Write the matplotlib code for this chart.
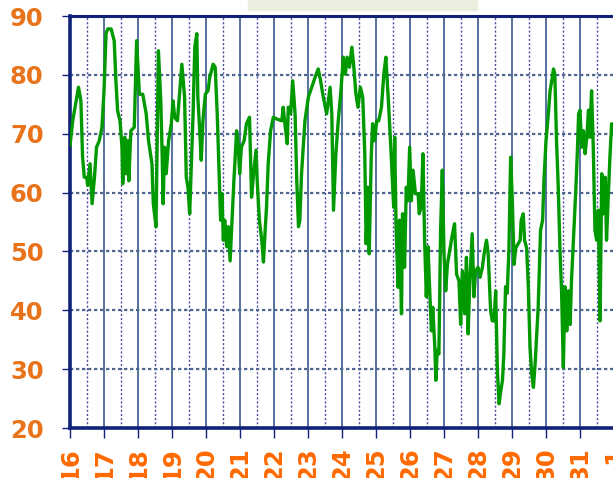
import matplotlib
matplotlib.use('Agg')
import matplotlib.pyplot as plt
from matplotlib.patches import Rectangle

# Values (day of month, reading)
days = [16.00, 16.08, 16.18, 16.25, 16.32, 16.37, 16.42, 16.49, 16.52, 16.59,
        16.65, 16.72, 16.78, 16.86, 16.94, 17.00, 17.06, 17.11, 17.21, 17.30,
        17.35, 17.40, 17.47, 17.53, 17.55, 17.61, 17.65, 17.70, 17.73, 17.79,
        17.89, 17.96, 18.04, 18.14, 18.24, 18.31, 18.41, 18.45, 18.53, 18.60,
        18.67, 18.71, 18.74, 18.78, 18.83, 18.90, 18.98, 19.03, 19.08, 19.16,
        19.23, 19.29, 19.37, 19.42, 19.47, 19.52, 19.57, 19.62, 19.67, 19.73,
        19.76, 19.81, 19.86, 19.91, 19.98, 20.06, 20.11, 20.21, 20.27, 20.33,
        20.38, 20.43, 20.47, 20.51, 20.55, 20.61, 20.65, 20.71, 20.76, 20.82,
        20.90, 20.94, 20.99, 21.04, 21.12, 21.19, 21.28, 21.34, 21.39, 21.47,
        21.51, 21.57, 21.64, 21.69, 21.74, 21.78, 21.83, 21.90, 21.98, 22.08,
        22.23, 22.27, 22.32, 22.39, 22.42, 22.49, 22.55, 22.62, 22.67, 22.72,
        22.76, 22.81, 22.91, 23.01, 23.11, 23.21, 23.30, 23.37, 23.45, 23.55,
        23.65, 23.70, 23.75, 23.82, 23.89, 23.96, 24.04, 24.05, 24.10, 24.15,
        24.22, 24.29, 24.34, 24.41, 24.47, 24.54, 24.61, 24.67, 24.71, 24.76,
        24.80, 24.86, 24.90, 24.96, 25.02, 25.08, 25.16, 25.23, 25.29, 25.37,
        25.45, 25.52, 25.55, 25.59, 25.65, 25.69, 25.75, 25.78, 25.84, 25.89,
        25.94, 25.99, 26.04, 26.09, 26.16, 26.24, 26.27, 26.33, 26.38, 26.43,
        26.48, 26.53, 26.58, 26.63, 26.67, 26.73, 26.76, 26.80, 26.85, 26.90,
        26.95, 27.00, 27.05, 27.10, 27.18, 27.25, 27.31, 27.37, 27.44, 27.49,
        27.54, 27.61, 27.66, 27.71, 27.76, 27.83, 27.88, 27.93, 28.00, 28.06,
        28.13, 28.18, 28.25, 28.30, 28.37, 28.42, 28.47, 28.52, 28.57, 28.62,
        28.67, 28.72, 28.76, 28.81, 28.86, 28.91, 28.96, 29.01, 29.06, 29.11,
        29.18, 29.24, 29.27, 29.33, 29.37, 29.43, 29.48, 29.53, 29.58, 29.63,
        29.68, 29.77, 29.84, 29.90, 29.94, 30.00, 30.07, 30.12, 30.17, 30.22,
        30.26, 30.31, 30.36, 30.41, 30.46, 30.51, 30.56, 30.61, 30.66, 30.71,
        30.75, 30.82, 30.88, 30.92, 30.96, 31.00, 31.05, 31.10, 31.15, 31.20,
        31.25, 31.29, 31.34, 31.39, 31.44, 31.49, 31.54, 31.59, 31.64, 31.69,
        31.74, 31.78, 31.83, 31.88, 31.93, 31.97, 32.05]
values = [68.0, 72.2, 75.6, 77.9, 75.6, 66.0, 62.6, 62.6, 61.2, 64.9,
          58.1, 62.6, 67.7, 68.8, 71.1, 77.3, 87.0, 87.8, 87.8, 85.8,
          79.0, 73.9, 72.2, 67.7, 61.5, 69.4, 63.2, 68.8, 62.0, 70.5,
          71.1, 85.8, 76.7, 76.7, 73.4, 68.8, 64.9, 58.1, 54.2, 84.1,
          75.6, 66.6, 58.1, 67.7, 63.2, 68.8, 71.7, 75.6, 72.8, 72.2,
          77.3, 81.8, 76.2, 62.6, 60.9, 56.4, 64.9, 73.4, 84.7, 87.0,
          76.2, 71.1, 65.5, 72.2, 76.7, 77.3, 79.6, 81.8, 81.3, 73.4,
          64.4, 55.3, 59.8, 51.9, 55.3, 50.8, 54.2, 48.4, 54.7, 62.0,
          70.5, 68.8, 63.2, 67.7, 68.8, 71.7, 72.8, 59.2, 62.6, 67.2,
          61.5, 55.3, 51.9, 48.2, 53.6, 57.5, 64.9, 70.5, 72.8, 72.5,
          72.2, 74.5, 71.7, 68.3, 74.5, 73.4, 79.0, 73.4, 62.0, 54.2,
          55.3, 63.2, 72.2, 76.2, 77.9, 79.6, 81.0, 79.0, 76.2, 73.4,
          77.9, 73.4, 57.0, 66.6, 72.2, 76.7, 83.0, 81.3, 80.1, 83.0,
          81.3, 84.7, 81.8, 76.7, 74.5, 77.9, 76.2, 66.6, 51.3, 60.9,
          49.6, 66.0, 71.7, 68.8, 72.2, 72.2, 74.5, 80.1, 83.0, 75.0,
          66.0, 57.5, 69.4, 54.2, 43.9, 55.3, 39.4, 56.4, 47.3, 60.9,
          58.6, 67.7, 58.6, 63.8, 59.8, 59.8, 56.4, 57.5, 66.6, 51.9,
          42.3, 50.8, 43.3, 36.5, 40.5, 33.7, 28.1, 33.2, 32.6, 53.6,
          63.8, 49.6, 43.3, 47.8, 50.6, 53.0, 54.7, 46.1, 45.0, 37.6,
          46.7, 39.4, 49.0, 36.0, 45.0, 53.0, 42.3, 46.7, 47.3, 45.6,
          47.3, 49.6, 51.9, 49.6, 40.0, 38.2, 38.2, 43.3, 29.8, 24.1,
          26.3, 28.1, 32.6, 44.0, 42.9, 50.6, 66.0, 58.6, 47.8, 50.6,
          51.3, 51.9, 55.3, 56.4, 51.9, 50.6, 44.0, 33.7, 29.2, 26.9,
          30.9, 40.5, 53.6, 55.3, 62.0, 68.8, 73.4, 77.3, 79.0, 81.0,
          80.1, 68.8, 60.9, 50.6, 42.9, 30.3, 44.0, 36.5, 43.3, 37.6,
          45.0, 53.6, 60.9, 66.6, 73.4, 74.0, 67.7, 70.5, 66.6, 69.4,
          74.0, 69.4, 77.3, 67.7, 53.6, 51.9, 57.0, 38.2, 63.2, 56.4,
          62.6, 51.9, 59.2, 66.0, 71.7, 70.0, 72.0]

x_ticks = list(range(16, 33))
x_labels = [str(d) for d in range(16, 32)] + ['1']
y_ticks = [20, 30, 40, 50, 60, 70, 80, 90]

navy = '#0F2278'
W, H = 613, 478

fig = plt.figure(figsize=(W / 100, H / 100), dpi=100)
# plot area: left edge at 70px, runs off the right side like the reference
ax = fig.add_axes([70 / W, 50 / H, 551 / W, 412 / H])

# light box peeking in at the top (cut off title/legend area)
fig.patches.append(Rectangle((248 / W, 1 - 10 / H), 229 / W, 10 / H,
                             transform=fig.transFigure, color='#EBEEDF',
                             zorder=0))

# grid: solid at each day, dotted at each half-day, dotted horizontals
for d in x_ticks:
    ax.axvline(d, color='#3A5A8C', lw=1.2, zorder=1)
    ax.axvline(d + 0.5, color='#4B4BA0', lw=1.0, ls=(0, (1.5, 1.5)), zorder=1)
for v in y_ticks[1:-1]:
    ax.axhline(v, color='#4F6690', lw=1.6, ls=(0, (1.5, 1.2)), zorder=1)

ax.plot(days, values, color='#009900', lw=2.4, zorder=3)

ax.set_xlim(16, 16 + 551 / 34)
ax.set_ylim(20, 90)
ax.set_xticks(x_ticks)
ax.set_xticklabels(x_labels, rotation=90, fontsize=17.5,
                   fontweight='bold', color='#FF6A00')
ax.set_yticks(y_ticks)
ax.set_yticklabels([str(v) for v in y_ticks], fontsize=17.5,
                   fontweight='bold', color='#E8731A')
ax.tick_params(axis='y', length=6, width=1, color=navy, pad=13)
ax.tick_params(axis='x', length=7, width=1, color=navy, pad=7)

for side in ['left', 'bottom']:
    ax.spines[side].set_color(navy)
    ax.spines[side].set_linewidth(2.6)
ax.spines['top'].set_color(navy)
ax.spines['top'].set_linewidth(2.2)
ax.spines['right'].set_visible(False)

fig.savefig('out.png', dpi=100)
